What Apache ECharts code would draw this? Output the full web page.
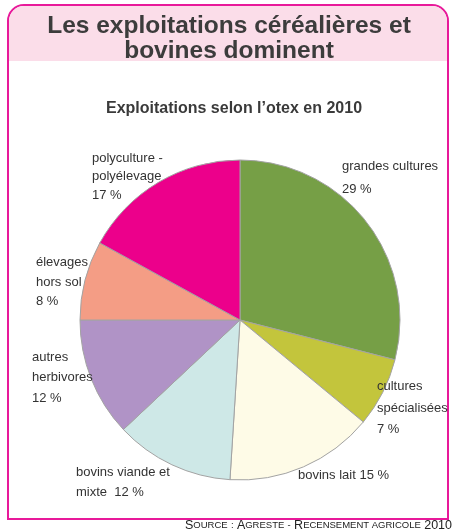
<!DOCTYPE html>
<html>
<head>
<meta charset="utf-8">
<script src="https://cdn.jsdelivr.net/npm/echarts@6/dist/echarts.min.js"></script>
<style>
  html, body { margin: 0; padding: 0; background: #fff; }
  #chart { width: 456px; height: 531px; }
</style>
</head>
<body>
<div id="chart"></div>
<script>
// otex categories, clockwise from 12 o'clock
var categories = ['grandes cultures', 'cultures\nspécialisées', 'bovins lait', 'bovins viande et\nmixte',
                  'autres\nherbivores', 'élevages\nhors sol', 'polyculture -\npolyélevage'];
var shares = [29, 7, 15, 12, 12, 8, 17];
var colors = ['#769f46', '#c3c53c', '#fefbe7', '#cee8e7', '#b093c6', '#f49d85', '#ec008b'];
// text between the name and the value
var joiners = ['\n', '\n', ' ', '  ', '\n', '\n', '\n'];
// where each label sits (top-left) and its line spacing
var labelPos = [[342, 155], [377, 376], [298, 465], [76, 463], [32, 347], [36, 253], [92, 149]];
var labelLines = [23, 21.5, 20, 19.5, 20.5, 19.5, 18.5];

var myChart = echarts.init(document.getElementById('chart'));

var option = {
    animation: false,
    title: {
        text: 'Exploitations selon l\u2019otex en 2010',
        left: 229,
        textAlign: 'center',
        top: 96,
        textStyle: { fontFamily: 'Liberation Sans', fontSize: 16, fontWeight: 'bold', color: '#3a3a3a' }
    },
    graphic: [
        {
            type: 'rect', z: -10,
            shape: { x: 8, y: 5, width: 440, height: 514, r: [16, 16, 0, 0] },
            style: { fill: '#fff', stroke: '#e8199a', lineWidth: 2 }
        },
        {
            type: 'rect', z: -9,
            shape: { x: 9, y: 6, width: 438, height: 55, r: [15, 15, 0, 0] },
            style: { fill: '#fbdde9' }
        },
        {
            type: 'text', z: 5,
            style: {
                text: 'Les exploitations céréalières et\nbovines dominent',
                x: 229, y: 14, align: 'center',
                font: 'bold 24.5px "Liberation Sans", Arial, sans-serif',
                lineHeight: 25,
                fill: '#3c3c3c'
            }
        },
        {
            type: 'text', z: 5,
            style: {
                text: '{b|S}{s|OURCE} {s|:} {b|A}{s|GRESTE} {s|-} {b|R}{s|ECENSEMENT AGRICOLE} {b|2010}',
                x: 452, y: 532, align: 'right', verticalAlign: 'bottom',
                fill: '#222',
                rich: {
                    b: { fontFamily: 'Liberation Sans', fontSize: 12.5, fill: '#222' },
                    s: { fontFamily: 'Liberation Sans', fontSize: 9.5, fill: '#222' }
                }
            }
        }
    ],
    series: [
        {
            type: 'pie',
            center: [240, 320],
            radius: 160,
            startAngle: 90,
            clockwise: true,
            avoidLabelOverlap: false,
            itemStyle: { borderColor: '#a3a3a3', borderWidth: 1 },
            emphasis: { disabled: true },
            label: {
                show: true,
                position: 'outside',
                fontFamily: 'Liberation Sans',
                fontSize: 13,
                color: '#333',
                formatter: function (p) {
                    return categories[p.dataIndex] + joiners[p.dataIndex] + p.value + ' %';
                }
            },
            labelLine: { show: false },
            labelLayout: function (p) {
                var pos = labelPos[p.dataIndex];
                return { x: pos[0], y: pos[1], align: 'left', verticalAlign: 'top' };
            },
            data: shares.map(function (v, i) {
                return {
                    value: v, name: categories[i],
                    itemStyle: { color: colors[i] },
                    label: { lineHeight: labelLines[i] }
                };
            })
        }
    ]
};

myChart.setOption(option);
</script>
</body>
</html>
